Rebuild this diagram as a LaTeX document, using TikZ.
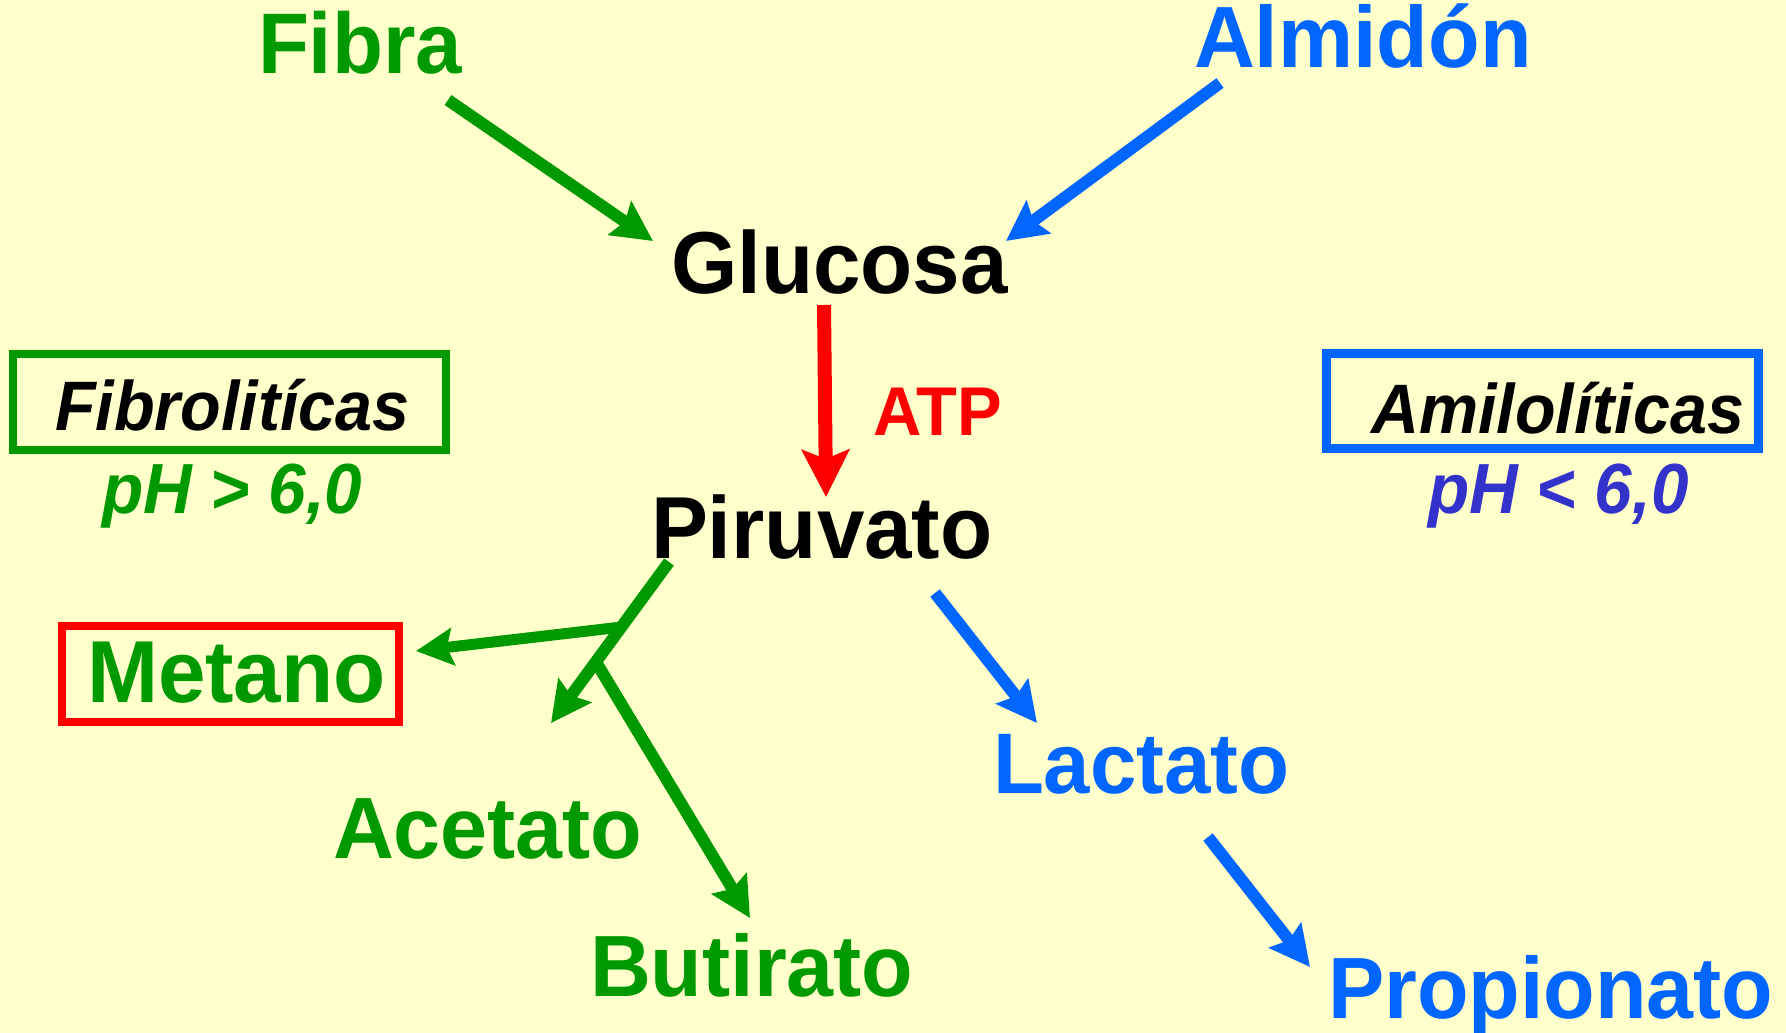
\documentclass[tikz,border=0pt]{standalone}
\usepackage{fontspec}
\setmainfont{Liberation Sans}
\newfontfamily\af[FakeStretch=0.97]{Liberation Sans}
\newfontfamily\aif[FakeStretch=0.95]{Liberation Sans}
\usetikzlibrary{arrows.meta,calc}
\definecolor{bg}{HTML}{FFFFCC}
\definecolor{gr}{HTML}{009900}
\definecolor{bl}{HTML}{0066FF}
\definecolor{rd}{HTML}{FF0000}
\definecolor{ind}{HTML}{3333CC}
\begin{document}
\begin{tikzpicture}[x=1pt,y=-1pt,
  lbl/.style={inner sep=0pt, outer sep=0pt, anchor=base west, font=\af\bfseries\fontsize{#1pt}{#1pt}\selectfont},
  ilbl/.style={inner sep=0pt, outer sep=0pt, anchor=base west, font=\aif\bfseries\itshape\fontsize{#1pt}{#1pt}\selectfont},
  arr/.style={line width=12pt, -{Stealth[length=40pt,width=40pt,inset=6pt]}},
  bigarr/.style={line width=14pt, -{Stealth[length=47pt,width=47pt,inset=9pt]}},
  framebox/.style={draw, inner sep=0pt, outer sep=0pt}
]
\useasboundingbox (0,0) rectangle (1786,1033);
\fill[bg] (0,0) rectangle (1786,1033);

% text nodes
\node[lbl=86, text=gr] (fibra) at (258,74) {Fibra};
\node[lbl=87, text=bl] (almidon) at (1194,68) {Almidón};
\node[lbl=88, text=black] (glucosa) at (671,293) {Glucosa};
\node[lbl=88, text=black] (piruvato) at (651,558) {Piruvato};
\node[lbl=69, text=rd] (atp) at (873,435) {ATP};
\node[lbl=86, text=bl] (lactato) at (993,793) {Lactato};
\node[lbl=87, text=bl] (propionato) at (1328,1018) {Propionato};
\node[lbl=87, text=gr] (acetato) at (333,858) {Acetato};
\node[lbl=87, text=gr] (butirato) at (590,996) {Butirato};

% boxes
\node[framebox, draw=gr, line width=8pt, minimum width=433pt, minimum height=96pt] (fbox) at (229.5,402) {};
\node[ilbl=70, text=black] (fibro) at (55,430) {Fibrolitícas};
\node[ilbl=71, text=gr] (phA) at (102,513) {pH > 6,0};

\node[framebox, draw=bl, line width=9pt, minimum width=432pt, minimum height=95pt] (abox) at (1542.5,401) {};
\node[ilbl=70, text=black] (amilo) at (1371,433) {Amilolíticas};
\node[ilbl=71, text=ind] (phB) at (1428,513) {pH < 6,0};

\node[framebox, draw=rd, line width=8pt, minimum width=337pt, minimum height=96pt] (mbox) at (230,674) {};
\node[lbl=88, text=gr] (metano) at (87,702) {Metano};

% connector end points
\coordinate (fS) at (448,100);
\coordinate (fT) at (653,241);
\coordinate (aS) at (1220,83);
\coordinate (aT) at (1006,241);
\coordinate (gS) at (824,305);
\coordinate (gT) at (826,497);
\coordinate (pS) at (669,562);
\coordinate (acT) at (551,723);
\coordinate (meT) at (416,651);
\coordinate (buT) at (750,918);
\coordinate (pbS) at (935,593);
\coordinate (laT) at (1037,723);
\coordinate (lS) at (1208,837);
\coordinate (prT) at (1310,967);

% connectors
\draw[arr, gr] (fS) -- (fT);
\draw[arr, bl] (aS) -- (aT);
\draw[bigarr, rd] (gS) -- (gT);
\draw[arr, gr] (pS) -- (acT);
\draw[line width=11pt, gr, -{Stealth[length=37pt,width=37pt,inset=6pt]}] ($(pS)!0.404!(acT)$) -- (meT);
\draw[arr, gr] ($(pS)!0.62!(acT)$) -- (buT);
\draw[arr, bl] (pbS) -- (laT);
\draw[arr, bl] (lS) -- (prT);
\end{tikzpicture}
\end{document}
